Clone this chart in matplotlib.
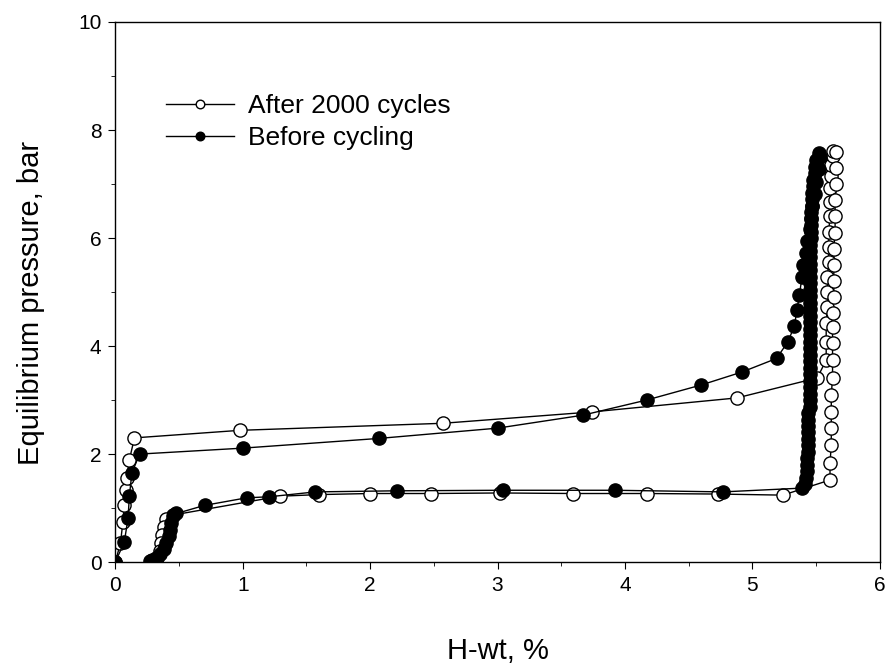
import matplotlib
matplotlib.use("Agg")
import matplotlib.pyplot as plt

plt.rcParams['font.family'] = ['Liberation Sans', 'DejaVu Sans']

# Before cycling: absorption branch (wt% H, bar)
bc_abs_x = [0.0, 0.07, 0.10, 0.11, 0.13, 0.19, 1.00, 2.07, 3.00, 3.67, 4.17, 4.60,
            4.92, 5.19, 5.28, 5.33, 5.35, 5.37, 5.39, 5.40, 5.42, 5.43, 5.45, 5.46,
            5.47, 5.49, 5.50, 5.52, 5.53]
bc_abs_p = [0.0, 0.37, 0.81, 1.22, 1.65, 2.00, 2.11, 2.29, 2.48, 2.72, 3.00, 3.28,
            3.52, 3.77, 4.08, 4.37, 4.66, 4.95, 5.28, 5.50, 5.72, 5.94, 6.16, 6.38,
            6.60, 6.82, 7.04, 7.28, 7.50]
# Before cycling: desorption branch
bc_des_x = [5.52, 5.50, 5.49, 5.49, 5.48, 5.48, 5.47, 5.47, 5.47, 5.46, 5.46, 5.46,
            5.46, 5.46, 5.45, 5.45, 5.45, 5.45, 5.45, 5.45, 5.45, 5.45, 5.45, 5.45,
            5.45, 5.45, 5.45, 5.45, 5.45, 5.45, 5.45, 5.45, 5.45, 5.45, 5.45, 5.45,
            5.45, 5.45, 5.45, 5.45, 5.44, 5.44, 5.44, 5.44, 5.44, 5.44, 5.44, 5.43,
            5.43, 5.43, 5.42, 5.41, 5.39, 4.77, 3.92, 3.04, 2.21, 1.57, 1.21, 1.03,
            0.70, 0.48, 0.45, 0.44, 0.43, 0.42, 0.40, 0.38, 0.35, 0.32, 0.29, 0.27]
bc_des_p = [7.58, 7.45, 7.32, 7.20, 7.08, 6.96, 6.84, 6.72, 6.60, 6.48, 6.36, 6.24,
            6.12, 6.00, 5.88, 5.76, 5.64, 5.52, 5.40, 5.28, 5.16, 5.04, 4.92, 4.80,
            4.68, 4.56, 4.44, 4.32, 4.20, 4.08, 3.96, 3.84, 3.72, 3.60, 3.48, 3.36,
            3.24, 3.12, 3.00, 2.88, 2.76, 2.64, 2.52, 2.40, 2.28, 2.16, 2.04, 1.92,
            1.80, 1.68, 1.56, 1.45, 1.37, 1.30, 1.33, 1.33, 1.32, 1.30, 1.21, 1.19,
            1.05, 0.90, 0.85, 0.72, 0.60, 0.48, 0.36, 0.25, 0.15, 0.08, 0.04, 0.02]

# After 2000 cycles: absorption branch
ac_abs_x = [0.0, 0.04, 0.06, 0.07, 0.08, 0.09, 0.11, 0.15, 0.98, 2.57, 3.74, 4.88,
            5.51, 5.58, 5.58, 5.58, 5.59, 5.59, 5.59, 5.60, 5.60, 5.60, 5.61, 5.61,
            5.61, 5.62, 5.62, 5.63, 5.63]
ac_abs_p = [0.0, 0.35, 0.75, 1.05, 1.33, 1.55, 1.89, 2.30, 2.44, 2.57, 2.78, 3.04,
            3.41, 3.74, 4.07, 4.43, 4.72, 5.00, 5.28, 5.56, 5.84, 6.12, 6.40, 6.66,
            6.92, 7.15, 7.36, 7.52, 7.62]
# After 2000 cycles: desorption branch
ac_des_x = [5.66, 5.66, 5.66, 5.65, 5.65, 5.65, 5.64, 5.64, 5.64, 5.64, 5.63, 5.63,
            5.63, 5.63, 5.63, 5.62, 5.62, 5.62, 5.62, 5.61, 5.61, 5.24, 4.73, 4.17,
            3.59, 3.02, 2.48, 2.00, 1.60, 1.29, 0.45, 0.40, 0.38, 0.37, 0.36, 0.35,
            0.33, 0.30]
ac_des_p = [7.60, 7.30, 7.00, 6.70, 6.40, 6.10, 5.80, 5.50, 5.20, 4.90, 4.61, 4.35,
            4.06, 3.74, 3.41, 3.10, 2.78, 2.48, 2.17, 1.83, 1.52, 1.24, 1.26, 1.27,
            1.27, 1.28, 1.27, 1.27, 1.25, 1.22, 0.87, 0.80, 0.65, 0.50, 0.35, 0.20,
            0.08, 0.02]

fig = plt.figure(figsize=(8.94, 6.66), dpi=100)
ax = fig.add_axes([0.129, 0.156, 0.855, 0.811])

ax.plot(ac_abs_x + ac_des_x, ac_abs_p + ac_des_p, '-o', color='black', lw=1.0,
        ms=9.5, mfc='white', mec='black', mew=1.0, label='After 2000 cycles')
ax.plot(bc_abs_x + bc_des_x, bc_abs_p + bc_des_p, '-o', color='black', lw=1.0,
        ms=9.5, mfc='black', mec='black', label='Before cycling')

ax.set_xlim(0, 6)
ax.set_ylim(0, 10)
ax.set_xticks([0, 1, 2, 3, 4, 5, 6])
ax.set_xticks([0.5, 1.5, 2.5, 3.5, 4.5, 5.5], minor=True)
ax.set_yticks([0, 2, 4, 6, 8, 10])
ax.set_yticks([1, 3, 5, 7, 9], minor=True)
ax.tick_params(which='both', direction='out', top=False, right=False, labelsize=15)
ax.tick_params(which='major', length=5, pad=5)
ax.tick_params(which='minor', length=3)
for s in ax.spines.values():
    s.set_linewidth(1.0)

ax.set_xlabel('H-wt, %', fontsize=21, labelpad=30)
ax.set_ylabel('Equilibrium pressure, bar', fontsize=21)
ax.yaxis.set_label_coords(-0.092, 0.48)

ax.legend(loc='upper left', bbox_to_anchor=(0.035, 0.91), frameon=False,
          fontsize=19, handlelength=2.6, markerscale=0.65, labelspacing=0.3,
          handletextpad=0.5)

fig.savefig('out.png', dpi=100)
